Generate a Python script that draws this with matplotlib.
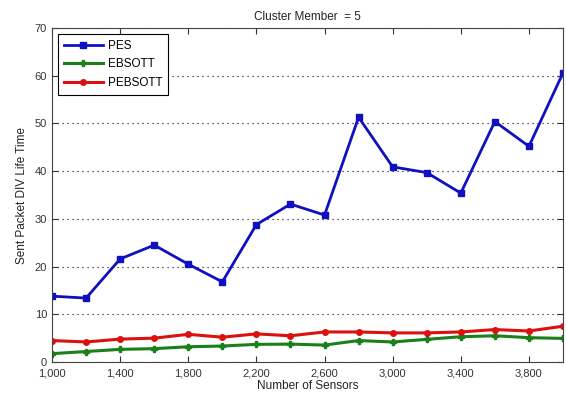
import matplotlib
matplotlib.use("Agg")
import matplotlib.pyplot as plt
from matplotlib.ticker import FuncFormatter

plt.rcParams['font.family'] = ['Liberation Sans', 'DejaVu Sans']

sensors = [1000, 1200, 1400, 1600, 1800, 2000, 2200, 2400, 2600, 2800, 3000, 3200, 3400, 3600, 3800, 4000]
pes = [13.8, 13.4, 21.6, 24.5, 20.5, 16.8, 28.8, 33.1, 30.8, 51.3, 40.9, 39.7, 35.4, 50.4, 45.2, 60.6]
ebsott = [1.75, 2.2, 2.65, 2.8, 3.2, 3.35, 3.7, 3.75, 3.55, 4.5, 4.2, 4.75, 5.3, 5.5, 5.1, 4.95]
pebsott = [4.5, 4.2, 4.8, 5.0, 5.8, 5.2, 5.9, 5.5, 6.3, 6.3, 6.1, 6.1, 6.3, 6.8, 6.5, 7.5]
xticks = [1000, 1400, 1800, 2200, 2600, 3000, 3400, 3800]
yticks = [0, 10, 20, 30, 40, 50, 60, 70]

fig = plt.figure(figsize=(5.66, 3.99), dpi=100)
ax = fig.add_axes([0.0919, 0.0927, 0.9028, 0.8371])

ax.plot(sensors, pes, color='#1010c0', lw=2, marker='s', ms=4, label='PES')
ax.plot(sensors, ebsott, color='#1a801a', lw=2.2, marker='P', ms=5, label='EBSOTT')
ax.plot(sensors, pebsott, color='#dd1010', lw=2.2, marker='o', ms=4, label='PEBSOTT')

ax.set_xlim(1000, 4000)
ax.set_ylim(0, 70)
ax.set_xticks(xticks)
ax.set_yticks(yticks)
ax.xaxis.set_major_formatter(FuncFormatter(lambda v, p: f"{int(v):,}"))
ax.tick_params(direction='in', length=4, labelsize=8, colors='#333333', top=True, right=True)
ax.tick_params(axis='x', pad=5)
ax.yaxis.grid(True, linestyle=(0, (1, 3.5)), color='black', lw=0.8)
for s in ax.spines.values():
    s.set_color('#444444')

ax.set_title('Cluster Member  = 5', fontsize=8.5, color='#222222', pad=6)
ax.set_xlabel('Number of Sensors', fontsize=8.5, color='#222222', labelpad=1)
ax.set_ylabel('Sent Packet DIV Life Time', fontsize=8.5, color='#222222', labelpad=5)

leg = ax.legend(loc='upper left', fontsize=8.5, fancybox=False, framealpha=1,
                edgecolor='black', handlelength=3.3, borderaxespad=0.5, labelspacing=0.55,
                handletextpad=0.4, borderpad=0.5)
leg.get_frame().set_linewidth(0.8)

fig.savefig('out.png', dpi=100)
